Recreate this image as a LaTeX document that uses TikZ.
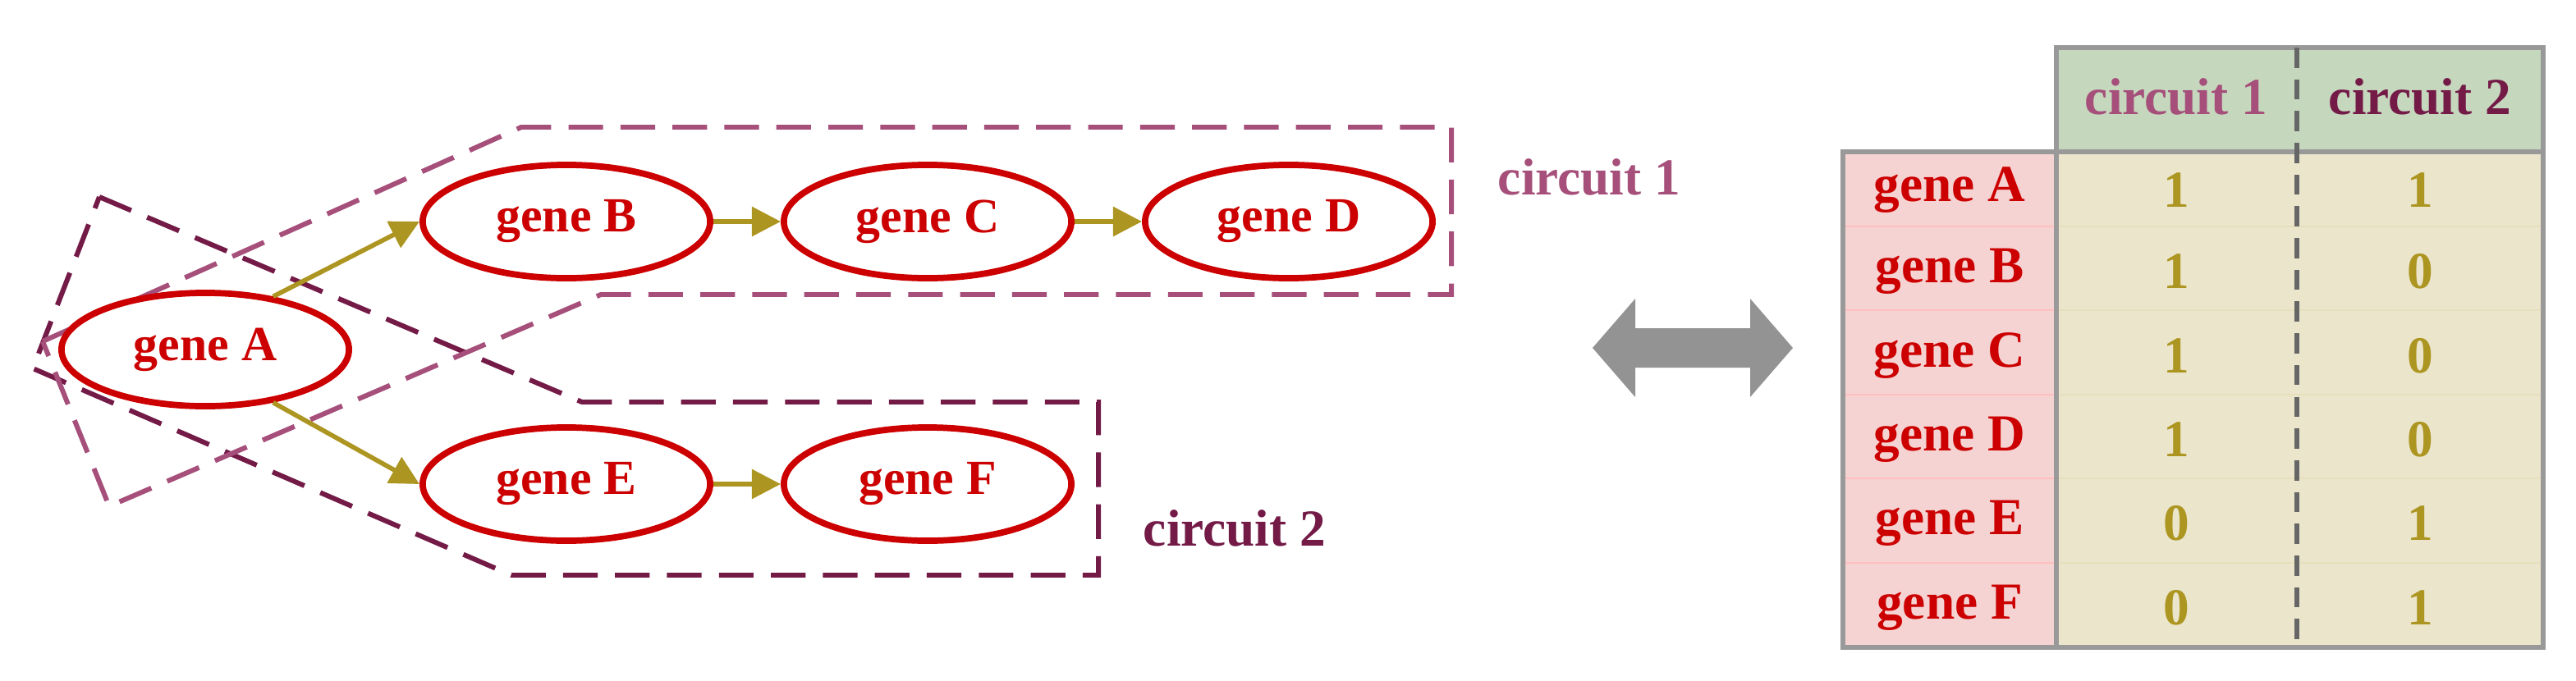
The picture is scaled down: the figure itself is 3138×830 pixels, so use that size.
\documentclass[tikz,border=0pt]{standalone}
\usepackage{fontspec}
\setmainfont{Liberation Serif}
\usetikzlibrary{shapes.geometric,arrows.meta}
\definecolor{gred}{HTML}{CC0000}
\definecolor{olive}{HTML}{AC9520}
\definecolor{cone}{HTML}{A54F7A}
\definecolor{ctwo}{HTML}{731A47}
\definecolor{hdr}{HTML}{C5D7BD}
\definecolor{tbody}{HTML}{EBE5CB}
\definecolor{lab}{HTML}{F5D3D3}
\definecolor{bord}{HTML}{999999}
\tikzset{
  gene/.style={ellipse,draw=gred,line width=2.2pt,fill=white,minimum width=3.5cm,minimum height=1.38cm,inner sep=0pt,text=gred,font=\fontsize{17}{19}\selectfont\bfseries},
  link/.style={draw=olive,line width=1.6pt,-{Triangle[length=10pt,width=10pt]}},
  circ/.style={line width=1.7pt,dash pattern=on 12pt off 6pt},
  tt/.style={font=\fontsize{18}{20}\selectfont\bfseries},
}
\begin{document}
\begin{tikzpicture}[x=0.01cm,y=-0.01cm]
\useasboundingbox (0,0) rectangle (3138,830);
% circuit polygons
\draw[circ,draw=ctwo] (121,240) -- (709,490) -- (1338,490) -- (1338,701) -- (623,701) -- (40,449) -- cycle;
\draw[circ,draw=cone] (52,416) -- (635,155) -- (1768,155) -- (1768,359) -- (732,359) -- (133,617) -- cycle;
% genes
\node[gene] (A) at (250,426) {gene A};
\node[gene] (B) at (690,270) {gene B};
\node[gene] (C) at (1130,270) {gene C};
\node[gene] (D) at (1570,270) {gene D};
\node[gene] (E) at (690,590) {gene E};
\node[gene] (F) at (1130,590) {gene F};
\draw[link] (A.38) -- (B.west);
\draw[link] (A.-38) -- (E.west);
\draw[link] (B) -- (C);
\draw[link] (C) -- (D);
\draw[link] (E) -- (F);
\node[tt,text=cone] (l1) at (1936,216) {circuit 1};
\node[tt,text=ctwo] (l2) at (1504,644) {circuit 2};
% double arrow
\fill[gray!85] (1940,424) -- (1992,364) -- (1992,400) -- (2132,400) -- (2132,364) -- (2184,424) -- (2132,484) -- (2132,448) -- (1992,448) -- (1992,484) -- cycle;
% table
\fill[hdr] (2505,58) rectangle (3098,185);
\fill[tbody] (2505,185) rectangle (3098,789);
\fill[lab] (2245,185) rectangle (2505,789);
\foreach \y in {276,378,481,583,686} {
  \draw[red!25,line width=0.3pt] (2245,\y) -- (2505,\y);
  \draw[olive!30,line width=0.3pt] (2505,\y) -- (3098,\y);
}
\draw[bord,line width=1.6pt] (2505,185) -- (2505,58) -- (3098,58) -- (3098,789) -- (2245,789) -- (2245,185) -- (3098,185);
\draw[bord,line width=1.6pt] (2505,185) -- (2505,789);
\draw[black!60,line width=1.6pt,dash pattern=on 7pt off 4pt] (2798,58) -- (2798,789);
\node[tt,text=cone] (h1) at (2651,118) {circuit 1};
\node[tt,text=ctwo] (h2) at (2948,118) {circuit 2};
\foreach \n/\y/\a/\b in {A/232/1/1,B/331/1/0,C/434/1/0,D/536/1/0,E/638/0/1,F/741/0/1} {
  \node[tt,text=gred] (r\n) at (2375,\y) {gene \n};
  \node[tt,text=olive] (p\n) at (2651,\y) {\a};
  \node[tt,text=olive] (q\n) at (2948,\y) {\b};
}
\end{tikzpicture}
\end{document}
